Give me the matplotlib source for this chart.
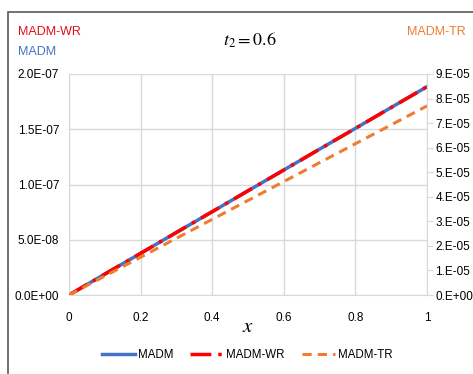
import matplotlib.pyplot as plt
from matplotlib.patches import Rectangle
import numpy as np

plt.rcParams["font.family"] = ["Liberation Sans", "DejaVu Sans"]
plt.rcParams["mathtext.fontset"] = "stix"

# data
x = [0.0, 0.1, 0.2, 0.3, 0.4, 0.5, 0.6, 0.7, 0.8, 0.9, 1.0]
madm = [0.0, 1.89e-8, 3.77e-8, 5.66e-8, 7.54e-8, 9.43e-8,
        1.131e-7, 1.320e-7, 1.508e-7, 1.697e-7, 1.885e-7]
madm_wr = [0.0, 1.89e-8, 3.77e-8, 5.66e-8, 7.54e-8, 9.43e-8,
           1.131e-7, 1.320e-7, 1.508e-7, 1.697e-7, 1.885e-7]
madm_tr = [0.0, 7.7e-6, 1.54e-5, 2.31e-5, 3.08e-5, 3.85e-5,
           4.62e-5, 5.39e-5, 6.16e-5, 6.93e-5, 7.70e-5]

x_ticks = [0, 0.2, 0.4, 0.6, 0.8, 1.0]
x_labels = ["0", "0.2", "0.4", "0.6", "0.8", "1"]
left_ticks = [0, 5e-8, 1e-7, 1.5e-7, 2e-7]
left_labels = ["0.0E+00", "5.0E-08", "1.0E-07", "1.5E-07", "2.0E-07"]
right_ticks = [0, 1e-5, 2e-5, 3e-5, 4e-5, 5e-5, 6e-5, 7e-5, 8e-5, 9e-5]
right_labels = ["0.E+00", "1.E-05", "2.E-05", "3.E-05", "4.E-05",
                "5.E-05", "6.E-05", "7.E-05", "8.E-05", "9.E-05"]

blue = "#4472C4"
red = "#FF0000"
orange = "#ED7D31"
grid_c = "#D9D9D9"

fig = plt.figure(figsize=(4.73, 3.74), dpi=100)
ax = fig.add_axes([69 / 473, 79 / 374, 358 / 473, 221 / 374])
ax2 = ax.twinx()

l1, = ax.plot(x, madm, color=blue, lw=2.5, label="MADM")
l2, = ax.plot(x, madm_wr, color=red, lw=2.5, dashes=(6, 2, 1, 2), label="MADM-WR")
l3, = ax2.plot(x, madm_tr, color=orange, lw=2.2, dashes=(3, 2), label="MADM-TR")

ax.set_xlim(0, 1)
ax.set_ylim(0, 2e-7)
ax2.set_ylim(0, 9e-5)
ax.set_xticks(x_ticks)
ax.set_xticklabels(x_labels)
ax.set_yticks(left_ticks)
ax.set_yticklabels(left_labels)
ax2.set_yticks(right_ticks)
ax2.set_yticklabels(right_labels)

ax.grid(True, color=grid_c, lw=1)
ax.set_axisbelow(True)
for a in (ax, ax2):
    for s in a.spines.values():
        s.set_visible(False)
ax.spines["bottom"].set_visible(True)
ax.spines["bottom"].set_color(grid_c)
ax.spines["left"].set_visible(True)
ax.spines["left"].set_color(grid_c)
ax2.spines["right"].set_visible(True)
ax2.spines["right"].set_color(grid_c)

ax.tick_params(axis="x", length=0, pad=12, labelsize=8.5)
ax.tick_params(axis="y", length=0, pad=7, labelsize=8.5)
ax2.tick_params(axis="y", length=4, color=grid_c, pad=2, labelsize=8.5)

ax.set_xlabel("$x$", fontsize=15, labelpad=-5)
fig.text(250 / 473, 1 - 40 / 374, "$t_2 = 0.6$", fontsize=13, ha="center", va="center")

fig.text(18 / 473, 1 - 32 / 374, "MADM-WR", color="#E0101A", fontsize=9, va="center")
fig.text(18 / 473, 1 - 52 / 374, "MADM", color=blue, fontsize=9, va="center")
fig.text(466 / 473, 1 - 32 / 374, "MADM-TR", color=orange, fontsize=9, va="center", ha="right")

fig.legend(handles=[l1, l2, l3], loc="center", bbox_to_anchor=(247 / 473, 1 - 355 / 374),
           ncol=3, frameon=False, fontsize=8.3, handlelength=2.9, columnspacing=1.5,
           handletextpad=0.2)

fig.patches.append(Rectangle((8 / 473, -0.05), 1.1, 1 - 12 / 374 + 0.05,
                             transform=fig.transFigure, fill=False,
                             edgecolor="#595959", lw=1.2))

fig.savefig("out.png", dpi=100)
